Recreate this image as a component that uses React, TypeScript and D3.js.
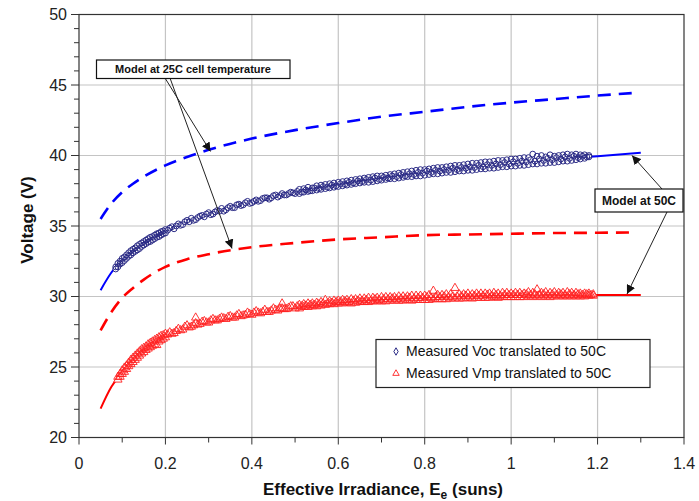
import React from "react";
import * as d3 from "d3";

// ---------- Model curves (irradiance in suns, voltage in V) ----------
const modelE = [0.05, 0.075, 0.1, 0.125, 0.15, 0.2, 0.25, 0.3, 0.4, 0.5, 0.6, 0.7, 0.8, 0.9, 1.0, 1.1, 1.2, 1.29];
const voc25 = [35.5, 36.6, 37.4, 38.0, 38.5, 39.3, 39.9, 40.4, 41.2, 41.8, 42.3, 42.75, 43.1, 43.45, 43.75, 44.0, 44.25, 44.45];
const modelE50 = [0.05, 0.075, 0.1, 0.125, 0.15, 0.2, 0.25, 0.3, 0.4, 0.5, 0.6, 0.7, 0.8, 0.9, 1.0, 1.1, 1.2, 1.3];
const voc50 = [30.45, 31.7, 32.55, 33.2, 33.75, 34.6, 35.3, 35.85, 36.7, 37.35, 37.9, 38.35, 38.75, 39.1, 39.45, 39.72, 39.95, 40.2];
const vmp25 = [27.6, 28.9, 29.9, 30.6, 31.2, 32.1, 32.65, 33.0, 33.5, 33.8, 34.05, 34.2, 34.35, 34.4, 34.45, 34.5, 34.52, 34.55];
const vmp50 = [22.05, 23.6, 24.6, 25.5, 26.2, 27.25, 27.85, 28.25, 28.8, 29.25, 29.6, 29.8, 29.9, 30.0, 30.05, 30.08, 30.1, 30.1];

// ---------- Measured Voc translated to 50C ----------
const measVoc: [number, number][] = [
  [0.085, 32.1], [0.085, 31.95], [0.09, 32.35], [0.09, 32.1], [0.095, 32.5], [0.095, 32.3],
  [0.1, 32.7], [0.1, 32.4], [0.105, 32.8], [0.105, 32.55], [0.11, 32.95], [0.11, 32.7],
  [0.115, 33.1], [0.115, 32.85], [0.12, 33.25], [0.12, 32.95], [0.125, 33.35], [0.125, 33.1],
  [0.13, 33.45], [0.13, 33.2], [0.135, 33.6], [0.135, 33.3], [0.14, 33.7], [0.14, 33.4],
  [0.145, 33.8], [0.145, 33.55], [0.15, 33.9], [0.15, 33.65], [0.155, 34.0], [0.155, 33.75],
  [0.16, 34.1], [0.16, 33.85], [0.165, 34.2], [0.165, 33.9], [0.17, 34.25], [0.17, 34.0],
  [0.175, 34.35], [0.175, 34.1], [0.18, 34.45], [0.18, 34.2], [0.185, 34.5], [0.185, 34.25],
  [0.19, 34.6], [0.19, 34.35], [0.195, 34.65], [0.195, 34.45], [0.2, 34.75], [0.2, 34.5],
  [0.21, 34.85], [0.215, 34.95], [0.22, 34.8], [0.23, 35.15], [0.24, 35.1], [0.245, 35.3],
  [0.25, 35.4], [0.26, 35.55], [0.27, 35.45], [0.275, 35.6], [0.28, 35.7], [0.29, 35.65],
  [0.3, 35.95], [0.305, 35.8], [0.31, 35.85], [0.32, 36.1], [0.33, 36.25], [0.335, 36.05],
  [0.34, 36.15], [0.35, 36.4], [0.36, 36.3], [0.365, 36.5], [0.37, 36.55], [0.38, 36.5],
  [0.39, 36.75], [0.395, 36.6], [0.4, 36.65], [0.41, 36.85], [0.42, 36.8], [0.425, 36.95],
  [0.43, 37.0], [0.44, 36.9], [0.45, 37.15], [0.455, 37.2], [0.46, 37.05], [0.47, 37.3],
  [0.48, 37.2], [0.485, 37.3], [0.49, 37.4], [0.5, 37.3],
  [0.51, 37.6], [0.51, 37.3], [0.52, 37.4], [0.52, 37.65], [0.53, 37.75], [0.53, 37.45],
  [0.54, 37.5], [0.54, 37.7], [0.55, 37.85], [0.55, 37.55], [0.56, 37.6], [0.56, 37.9],
  [0.57, 37.95], [0.57, 37.65], [0.58, 37.7], [0.58, 38.0], [0.59, 38.05], [0.59, 37.75],
  [0.6, 37.8], [0.6, 38.1], [0.61, 38.15], [0.61, 37.85], [0.62, 37.9], [0.62, 38.2],
  [0.63, 38.25], [0.63, 37.95], [0.64, 38.0], [0.64, 38.3], [0.65, 38.35], [0.65, 38.05],
  [0.66, 38.1], [0.66, 38.4], [0.67, 38.45], [0.67, 38.1], [0.68, 38.15], [0.68, 38.5],
  [0.69, 38.55], [0.69, 38.2], [0.7, 38.25], [0.7, 38.55], [0.71, 38.6], [0.71, 38.3],
  [0.72, 38.35], [0.72, 38.65], [0.73, 38.7], [0.73, 38.35], [0.74, 38.4], [0.74, 38.75],
  [0.75, 38.8], [0.75, 38.45], [0.76, 38.5], [0.76, 38.85], [0.77, 38.9], [0.77, 38.5],
  [0.78, 38.55], [0.78, 38.95], [0.79, 39.0], [0.79, 38.55], [0.8, 38.6], [0.8, 39.0],
  [0.81, 39.05], [0.81, 38.65], [0.82, 38.7], [0.82, 39.1], [0.83, 39.15], [0.83, 38.7],
  [0.84, 38.75], [0.84, 39.15], [0.85, 39.2], [0.85, 38.8], [0.86, 38.8], [0.86, 39.25],
  [0.87, 39.3], [0.87, 38.85], [0.88, 38.9], [0.88, 39.3], [0.89, 39.35], [0.89, 38.9],
  [0.9, 38.95], [0.9, 39.4], [0.91, 39.45], [0.91, 38.95], [0.92, 39.0], [0.92, 39.45],
  [0.93, 39.5], [0.93, 39.05], [0.94, 39.05], [0.94, 39.55], [0.95, 39.55], [0.95, 39.1],
  [0.96, 39.1], [0.96, 39.6], [0.97, 39.65], [0.97, 39.15], [0.98, 39.2], [0.98, 39.65],
  [0.99, 39.7], [0.99, 39.2], [1.0, 39.25], [1.0, 39.75], [1.01, 39.75], [1.01, 39.25],
  [1.02, 39.3], [1.02, 39.8], [1.03, 39.85], [1.03, 39.3], [1.04, 39.35], [1.04, 39.85],
  [1.05, 40.1], [1.05, 39.4], [1.06, 39.4], [1.06, 39.95], [1.07, 40.0], [1.07, 39.45],
  [1.08, 39.45], [1.08, 39.9], [1.09, 40.05], [1.09, 39.5], [1.1, 39.5], [1.1, 39.95],
  [1.11, 40.0], [1.11, 39.55], [1.12, 39.6], [1.12, 40.05], [1.13, 40.1], [1.13, 39.6],
  [1.14, 39.65], [1.14, 40.05], [1.15, 40.1], [1.15, 39.7], [1.16, 39.75], [1.16, 40.05],
  [1.17, 40.05], [1.17, 39.8], [1.18, 39.9], [1.18, 40.0],
];
const measVocMid: [number, number][] = [
  [0.205, 34.7], [0.225, 35.0], [0.235, 35.05], [0.255, 35.3], [0.265, 35.4], [0.285, 35.75],
  [0.295, 35.85], [0.315, 36.0], [0.325, 36.05], [0.345, 36.3], [0.355, 36.3], [0.375, 36.45],
  [0.385, 36.65], [0.405, 36.75], [0.415, 36.75], [0.435, 37.0], [0.445, 37.0], [0.465, 37.15],
  [0.475, 37.2], [0.495, 37.35],
  [0.505, 37.45], [0.515, 37.4], [0.525, 37.55], [0.535, 37.5], [0.545, 37.7], [0.555, 37.65],
  [0.565, 37.8], [0.575, 37.75], [0.585, 37.9], [0.595, 37.85], [0.605, 38.0], [0.615, 37.95],
  [0.625, 38.1], [0.635, 38.05], [0.645, 38.2], [0.655, 38.15], [0.665, 38.3], [0.675, 38.25],
  [0.685, 38.4], [0.695, 38.3], [0.705, 38.45], [0.715, 38.4], [0.725, 38.55], [0.735, 38.5],
  [0.745, 38.65], [0.755, 38.55], [0.765, 38.7], [0.775, 38.65], [0.785, 38.8], [0.795, 38.75],
  [0.805, 38.9], [0.815, 38.8], [0.825, 38.95], [0.835, 38.9], [0.845, 39.0], [0.855, 38.95],
  [0.865, 39.1], [0.875, 39.0], [0.885, 39.15], [0.895, 39.1], [0.905, 39.2], [0.915, 39.15],
  [0.925, 39.3], [0.935, 39.2], [0.945, 39.35], [0.955, 39.3], [0.965, 39.4], [0.975, 39.35],
  [0.985, 39.5], [0.995, 39.4], [1.005, 39.55], [1.015, 39.45], [1.025, 39.6], [1.035, 39.55],
  [1.045, 39.7], [1.055, 39.6], [1.065, 39.75], [1.075, 39.65], [1.085, 39.8], [1.095, 39.7],
  [1.105, 39.85], [1.115, 39.75], [1.125, 39.9], [1.135, 39.8], [1.145, 39.95], [1.155, 39.85],
  [1.165, 39.95], [1.175, 39.9],
];

// ---------- Measured Vmp translated to 50C ----------
const measVmp: [number, number][] = [
  [0.09, 24.3], [0.09, 24.1], [0.095, 24.5], [0.095, 24.3], [0.1, 24.75], [0.1, 24.5],
  [0.105, 24.95], [0.105, 24.65], [0.11, 25.1], [0.11, 24.85], [0.115, 25.3], [0.115, 25.05],
  [0.12, 25.5], [0.12, 25.2], [0.125, 25.65], [0.125, 25.35], [0.13, 25.8], [0.13, 25.5],
  [0.135, 25.95], [0.135, 25.65], [0.14, 26.1], [0.14, 25.8], [0.145, 26.25], [0.145, 25.95],
  [0.15, 26.35], [0.15, 26.05], [0.155, 26.45], [0.155, 26.2], [0.16, 26.6], [0.16, 26.3],
  [0.165, 26.7], [0.165, 26.4], [0.17, 26.8], [0.17, 26.5], [0.175, 26.9], [0.175, 26.6],
  [0.18, 27.0], [0.18, 26.55], [0.185, 27.1], [0.185, 26.8], [0.19, 27.2], [0.19, 26.9],
  [0.195, 27.25], [0.195, 27.0], [0.2, 27.35], [0.2, 27.1],
  [0.21, 27.45], [0.215, 27.35], [0.22, 27.4], [0.23, 27.7], [0.24, 27.65], [0.245, 27.85],
  [0.25, 27.95], [0.26, 27.85], [0.27, 28.5], [0.27, 28.1], [0.28, 28.05], [0.285, 28.2],
  [0.29, 28.25], [0.3, 28.15], [0.31, 28.4], [0.315, 28.3], [0.32, 28.3], [0.33, 28.5],
  [0.34, 28.4], [0.345, 28.55], [0.35, 28.6], [0.36, 28.5], [0.37, 28.75], [0.375, 28.6],
  [0.38, 28.65], [0.39, 28.85], [0.4, 28.7], [0.405, 28.85], [0.41, 28.95], [0.42, 28.8],
  [0.43, 29.05], [0.435, 28.9], [0.44, 28.9], [0.45, 29.15], [0.46, 29.0], [0.465, 29.15],
  [0.47, 29.5], [0.47, 29.15], [0.48, 29.1], [0.49, 29.3], [0.495, 29.3], [0.5, 29.15],
  [0.51, 29.4], [0.51, 29.15], [0.52, 29.25], [0.52, 29.45], [0.53, 29.5], [0.53, 29.25],
  [0.54, 29.3], [0.54, 29.5], [0.55, 29.55], [0.55, 29.3], [0.56, 29.35], [0.56, 29.6],
  [0.57, 29.75], [0.57, 29.4], [0.58, 29.45], [0.58, 29.65], [0.59, 29.7], [0.59, 29.45],
  [0.6, 29.5], [0.6, 29.7], [0.61, 29.75], [0.61, 29.5], [0.62, 29.55], [0.62, 29.75],
  [0.63, 29.8], [0.63, 29.5], [0.64, 29.55], [0.64, 29.8], [0.65, 29.85], [0.65, 29.6],
  [0.66, 29.6], [0.66, 29.85], [0.67, 29.9], [0.67, 29.6], [0.68, 29.65], [0.68, 29.9],
  [0.69, 29.9], [0.69, 29.65], [0.7, 29.65], [0.7, 29.95], [0.71, 29.95], [0.71, 29.65],
  [0.72, 29.7], [0.72, 29.95], [0.73, 29.95], [0.73, 29.7], [0.74, 29.7], [0.74, 30.0],
  [0.75, 30.0], [0.75, 29.7], [0.76, 29.75], [0.76, 30.0], [0.77, 30.05], [0.77, 29.7],
  [0.78, 29.75], [0.78, 30.05], [0.79, 30.05], [0.79, 29.75], [0.8, 29.75], [0.8, 30.05],
  [0.81, 30.1], [0.81, 29.75], [0.82, 30.4], [0.82, 29.8], [0.83, 30.1], [0.83, 29.8],
  [0.84, 29.8], [0.84, 30.1], [0.85, 30.15], [0.85, 29.8], [0.86, 29.85], [0.86, 30.15],
  [0.87, 30.6], [0.87, 29.85], [0.88, 29.85], [0.88, 30.15], [0.89, 30.15], [0.89, 29.85],
  [0.9, 29.9], [0.9, 30.2], [0.91, 30.15], [0.91, 29.85], [0.92, 29.9], [0.92, 30.2],
  [0.93, 30.2], [0.93, 29.9], [0.94, 29.9], [0.94, 30.2], [0.95, 30.2], [0.95, 29.9],
  [0.96, 29.95], [0.96, 30.25], [0.97, 30.2], [0.97, 29.9], [0.98, 29.95], [0.98, 30.25],
  [0.99, 30.25], [0.99, 29.95], [1.0, 29.95], [1.0, 30.2], [1.01, 30.25], [1.01, 29.95],
  [1.02, 29.95], [1.02, 30.25], [1.03, 30.2], [1.03, 29.95], [1.04, 30.0], [1.04, 30.3],
  [1.05, 30.25], [1.05, 29.95], [1.06, 30.5], [1.06, 30.0], [1.07, 30.25], [1.07, 29.95],
  [1.08, 30.0], [1.08, 30.3], [1.09, 30.25], [1.09, 29.95], [1.1, 30.0], [1.1, 30.3],
  [1.11, 30.25], [1.11, 30.0], [1.12, 30.0], [1.12, 30.25], [1.13, 30.3], [1.13, 30.0],
  [1.14, 30.0], [1.14, 30.25], [1.15, 30.25], [1.15, 30.0], [1.16, 30.0], [1.16, 30.2],
  [1.17, 30.2], [1.17, 30.0], [1.18, 30.05], [1.18, 30.2], [1.19, 30.15], [1.19, 30.05],
];
const measVmpMid: [number, number][] = [
  [0.205, 27.3], [0.225, 27.55], [0.235, 27.6], [0.255, 27.8], [0.265, 27.95], [0.275, 28.0],
  [0.295, 28.15], [0.305, 28.3], [0.325, 28.4], [0.335, 28.45], [0.355, 28.5], [0.365, 28.65],
  [0.385, 28.7], [0.395, 28.75], [0.415, 28.85], [0.425, 28.9], [0.445, 29.0], [0.455, 29.05],
  [0.475, 29.1], [0.485, 29.2],
  [0.505, 29.3], [0.515, 29.3], [0.525, 29.35], [0.535, 29.4], [0.545, 29.4], [0.555, 29.45],
  [0.565, 29.5], [0.575, 29.5], [0.585, 29.55], [0.595, 29.6], [0.605, 29.6], [0.615, 29.65],
  [0.625, 29.6], [0.635, 29.7], [0.645, 29.7], [0.655, 29.7], [0.665, 29.75], [0.675, 29.7],
  [0.685, 29.8], [0.695, 29.75], [0.705, 29.8], [0.715, 29.8], [0.725, 29.85], [0.735, 29.8],
  [0.745, 29.85], [0.755, 29.85], [0.765, 29.9], [0.775, 29.85], [0.785, 29.9], [0.795, 29.9],
  [0.805, 29.95], [0.815, 29.9], [0.825, 29.95], [0.835, 29.95], [0.845, 30.0], [0.855, 29.95],
  [0.865, 30.0], [0.875, 30.0], [0.885, 30.0], [0.895, 30.05], [0.905, 30.0], [0.915, 30.05],
  [0.925, 30.05], [0.935, 30.05], [0.945, 30.1], [0.955, 30.05], [0.965, 30.1], [0.975, 30.05],
  [0.985, 30.1], [0.995, 30.1], [1.005, 30.1], [1.015, 30.1], [1.025, 30.1], [1.035, 30.15],
  [1.045, 30.1], [1.055, 30.15], [1.065, 30.1], [1.075, 30.15], [1.085, 30.1], [1.095, 30.15],
  [1.105, 30.1], [1.115, 30.15], [1.125, 30.1], [1.135, 30.15], [1.145, 30.1], [1.155, 30.15],
  [1.165, 30.1], [1.175, 30.15], [1.185, 30.1],
];

// ---------- Axis ticks ----------
const xTicks = [0, 0.2, 0.4, 0.6, 0.8, 1.0, 1.2, 1.4];
const xTickLabels = ["0", "0.2", "0.4", "0.6", "0.8", "1", "1.2", "1.4"];
const xMinor = [0.1, 0.3, 0.5, 0.7, 0.9, 1.1, 1.3];
const yTicks = [20, 25, 30, 35, 40, 45, 50];
const yMinor = d3.range(21, 50).filter((v) => v % 5 !== 0);

const legendItems = ["Measured Voc translated to 50C", "Measured Vmp translated to 50C"];

const FONT = "'Liberation Sans', Arial, sans-serif";
const NAVY = "#2b2b86";

export default function App() {
  const x = d3.scaleLinear().domain([0, 1.4]).range([79, 684]);
  const y = d3.scaleLinear().domain([20, 50]).range([437.5, 14.5]);
  const L = 79, R = 684, T = 14.5, B = 437.5;

  const line = d3
    .line<[number, number]>()
    .x((d) => x(d[0]))
    .y((d) => y(d[1]))
    .curve(d3.curveMonotoneX);

  const zip = (a: number[], b: number[]) => a.map((e, i) => [e, b[i]] as [number, number]);
  const tri = d3.symbol().type(d3.symbolTriangle).size(30)()!;
  const vocPts = measVoc.concat(measVocMid);
  const vmpPts = measVmp.concat(measVmpMid);

  const arrows = [
    { x1: 165, y1: 78, x2: 210.5, y2: 151.5 },
    { x1: 170, y1: 78, x2: 232, y2: 248.5 },
    { x1: 662, y1: 189, x2: 632, y2: 155.5 },
    { x1: 667, y1: 212, x2: 627, y2: 294 },
  ];

  return (
    <svg
      width={699}
      height={501}
      style={{ position: "absolute", left: 0, top: 0, background: "#fff" }}
      fontFamily={FONT}
    >
      <defs>
        <marker id="ah" viewBox="0 0 10 10" refX="10" refY="5" markerWidth="9" markerHeight="9" markerUnits="userSpaceOnUse" orient="auto">
          <path d="M0,0 L10,5 L0,10 z" fill="#111" />
        </marker>
      </defs>
      <rect x={0} y={0} width={699} height={501} fill="#fff" />

      {/* gridlines */}
      {xTicks.slice(1, -1).map((t) => (
        <line key={"gx" + t} x1={x(t)} x2={x(t)} y1={T} y2={B} stroke="#c4c4c4" strokeWidth={1.2} />
      ))}
      {yTicks.slice(1, -1).map((t) => (
        <line key={"gy" + t} x1={L} x2={R} y1={y(t)} y2={y(t)} stroke="#c4c4c4" strokeWidth={1.2} />
      ))}

      {/* plot frame */}
      <rect x={L} y={T} width={R - L} height={B - T} fill="none" stroke="#333" strokeWidth={1.2} />

      {/* ticks */}
      {yTicks.map((t) => (
        <line key={"ty" + t} x1={L - 8} x2={L} y1={y(t)} y2={y(t)} stroke="#333" strokeWidth={1} />
      ))}
      {yMinor.map((t) => (
        <line key={"tym" + t} x1={L - 5} x2={L} y1={y(t)} y2={y(t)} stroke="#333" strokeWidth={1} />
      ))}
      {xTicks.map((t) => (
        <line key={"tx" + t} x1={x(t)} x2={x(t)} y1={B} y2={B + 7} stroke="#333" strokeWidth={1} />
      ))}
      {xMinor.map((t) => (
        <line key={"txm" + t} x1={x(t)} x2={x(t)} y1={B} y2={B + 5} stroke="#333" strokeWidth={1} />
      ))}

      {/* tick labels */}
      {yTicks.map((t) => (
        <text key={"ly" + t} x={67} y={y(t)} dy="0.35em" textAnchor="end" fontSize={16} fill="#222">
          {t}
        </text>
      ))}
      {xTicks.map((t, i) => (
        <text key={"lx" + t} x={x(t)} y={469} textAnchor="middle" fontSize={16} fill="#222">
          {xTickLabels[i]}
        </text>
      ))}

      {/* axis titles */}
      <text x={383} y={495} textAnchor="middle" fontSize={17} fontWeight="bold" fill="#111">
        Effective Irradiance, E<tspan dy={4} fontSize={12}>e</tspan>
        <tspan dy={-4}> (suns)</tspan>
      </text>
      <text transform="translate(33,220) rotate(-90)" textAnchor="middle" fontSize={17} fontWeight="bold" fill="#111">
        Voltage (V)
      </text>

      {/* model curves */}
      <path d={line(zip(modelE, voc25))!} fill="none" stroke="#0000ff" strokeWidth={2.6} strokeDasharray="13 8" />
      <path d={line(zip(modelE, vmp25))!} fill="none" stroke="#ff0000" strokeWidth={2.6} strokeDasharray="13 8" />
      <path d={line(zip(modelE50, voc50))!} fill="none" stroke="#0000ff" strokeWidth={2} />
      <path d={line(zip(modelE50, vmp50))!} fill="none" stroke="#ff0000" strokeWidth={2} />

      {/* measured points: white backing pass, then hollow outlines */}
      {vocPts.map((d, i) => (
        <circle key={"vb" + i} cx={x(d[0])} cy={y(d[1])} r={2.9} fill="#fff" stroke="none" />
      ))}
      {vmpPts.map((d, i) => (
        <path key={"mb" + i} d={tri} transform={`translate(${x(d[0])},${y(d[1])})`} fill="#fff" stroke="none" />
      ))}
      {vocPts.map((d, i) => (
        <circle key={"v" + i} cx={x(d[0])} cy={y(d[1])} r={2.9} fill="none" stroke={NAVY} strokeWidth={1} />
      ))}
      {vmpPts.map((d, i) => (
        <path key={"m" + i} d={tri} transform={`translate(${x(d[0])},${y(d[1])})`} fill="none" stroke="#ff2020" strokeWidth={0.9} />
      ))}

      {/* arrows */}
      {arrows.map((a, i) => (
        <line key={"a" + i} x1={a.x1} y1={a.y1} x2={a.x2} y2={a.y2} stroke="#222" strokeWidth={1} markerEnd="url(#ah)" />
      ))}

      {/* annotation boxes */}
      <rect x={96.5} y={60} width={193.5} height={18.5} fill="#fff" stroke="#111" strokeWidth={1.2} />
      <text x={193} y={69.5} dy="0.35em" textAnchor="middle" fontSize={11} fontWeight="bold" fill="#111">
        Model at 25C cell temperature
      </text>
      <rect x={595} y={189} width={88} height={23} fill="#fff" stroke="#111" strokeWidth={1.2} />
      <text x={639} y={200.5} dy="0.35em" textAnchor="middle" fontSize={12} fontWeight="bold" fill="#111">
        Model at 50C
      </text>

      {/* legend */}
      <rect x={376} y={339.5} width={274} height={48} fill="#fff" stroke="#222" strokeWidth={1.2} />
      <path d={d3.symbol().type(d3.symbolDiamond).size(16)()!} transform="translate(396,351.5)" fill="#fff" stroke={NAVY} strokeWidth={1} />
      <path d={d3.symbol().type(d3.symbolTriangle).size(18)()!} transform="translate(396,373.5)" fill="#fff" stroke="#ff2020" strokeWidth={0.9} />
      {legendItems.map((t, i) => (
        <text key={"lg" + i} x={406} y={351.5 + i * 22} dy="0.35em" fontSize={14} fill="#111">
          {t}
        </text>
      ))}
    </svg>
  );
}
